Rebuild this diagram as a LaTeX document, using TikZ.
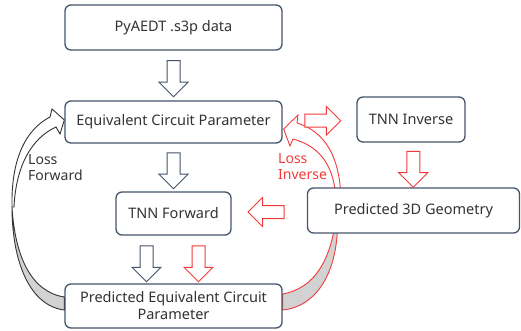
\documentclass[tikz,border=0pt]{standalone}
\usepackage{fontspec}
\setmainfont{Noto Sans}
\usetikzlibrary{shapes.arrows,calc}
\pgfdeclarelayer{bg}
\pgfsetlayers{bg,main}
\definecolor{boxline}{HTML}{44546A}
\definecolor{lossred}{HTML}{F23A3A}
\definecolor{txt}{HTML}{333333}
\tikzset{
  box/.style={draw=boxline, line width=1.3pt, rounded corners=6pt, fill=white, align=center, text=txt, font=\fontsize{14.5}{17}\selectfont},
  barrow/.style={single arrow, draw=#1, line width=1pt, fill=white, inner sep=6pt, minimum height=36pt, single arrow head extend=8pt},
  losstext/.style={align=left, anchor=west, font=\fontsize{14}{16}\selectfont, inner sep=0pt}
}
\begin{document}
\begin{tikzpicture}[x=1pt, y=-1pt]
        \useasboundingbox (0,0) rectangle (521,331);
        \node [box, minimum width=217pt, minimum height=45pt] (data) at (173.5,27.5) {PyAEDT .s3p data};
        \node [box, minimum width=217pt, minimum height=42pt] (ecp) at (173.5,122) {Equivalent Circuit Parameter};
        \node [box, minimum width=115pt, minimum height=43pt] (fwd) at (173.5,213.5) {TNN Forward};
        \node [box, minimum width=217pt, minimum height=44pt] (pecp) at (173.5,306) {Predicted Equivalent Circuit\\Parameter};
        \node [box, minimum width=108pt, minimum height=45pt] (inv) at (411,119.5) {TNN Inverse};
        \node [box, minimum width=212pt, minimum height=45pt] (geo) at (413.5,210.5) {Predicted 3D Geometry};
        \node [barrow=boxline, shape border rotate=270] (a1) at ($(data.south)!0.5!(ecp.north)$) {};
        \node [barrow=boxline, shape border rotate=270] (a2) at ($(ecp.south)!0.5!(fwd.north)$) {};
        \node [barrow=boxline, shape border rotate=270] (a3) at ($(fwd.south)!0.5!(pecp.north)+(-27,1)$) {};
        \node [barrow=lossred, shape border rotate=270] (a4) at ($(fwd.south)!0.5!(pecp.north)+(25,1)$) {};
        \node [barrow=lossred] (a5) at ($(ecp.east)!0.5!(inv.west)$) {};
        \node [barrow=lossred, shape border rotate=270] (a6) at ($(inv.south)!0.5!(geo.north)+(1,1)$) {};
        \node [barrow=lossred, shape border rotate=180] (a7) at ($(fwd.east)!0.5!(geo.west)$) {};
        \node [losstext, text=txt] (lf) at (28,168) {Loss\\Forward};
        \node [losstext, text=lossred] (li) at (278,167) {Loss\\Inverse};
        \begin{pgfonlayer}{bg}
        \draw [line width=0.9pt, draw=txt, fill=gray!35] ($(pecp.west)+(0,-9)$) .. controls (32,292) and (15,258) .. (12,207)
              .. controls (12,262) and (30,306) .. ($(pecp.west)+(0,4)$) -- cycle;
        \draw [line width=0.9pt, draw=txt, fill=white] (12,207) .. controls (11,160) and (25,130) .. (50,117)
              -- (52,109) -- ($(ecp.west)+(0,-2)$) -- (60,134) -- (56,127)
              .. controls (32,138) and (16,165) .. (14,207) -- cycle;
        \draw [line width=0.9pt, draw=lossred, fill=gray!35] ($(pecp.east)+(0,-12)$) .. controls (315,288) and (332,260) .. (337,210)
              .. controls (341,262) and (322,306) .. ($(pecp.east)+(0,4)$) -- cycle;
        \draw [line width=0.9pt, draw=lossred, fill=white] (341,200) .. controls (340,150) and (320,130) .. (297,123)
              -- (298,115) -- ($(ecp.east)+(1,7)$) -- (290,146) -- (293,139)
              .. controls (315,145) and (334,160) .. (336,200) -- cycle;
        \end{pgfonlayer}
\end{tikzpicture}
\end{document}
